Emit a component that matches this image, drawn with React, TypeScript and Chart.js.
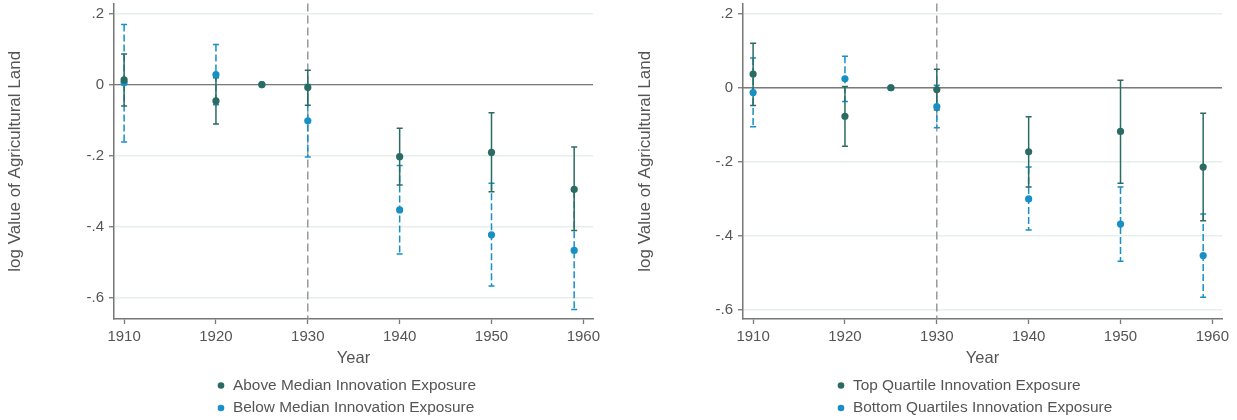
import React, { useEffect, useRef } from "react";
import { Chart, registerables } from "chart.js";

Chart.register(...registerables);

// ---------- DATA ----------
const years = [1910, 1920, 1925, 1930, 1940, 1950, 1959];
const xTicks = [1910, 1920, 1930, 1940, 1950, 1960];
const yTicks = [-0.6, -0.4, -0.2, 0, 0.2];
const yTickLabels = ["-.6", "-.4", "-.2", "0", ".2"];

// Left panel: median split
const aboveMedian = [0.013, -0.046, 0, -0.008, -0.203, -0.191, -0.295];
const aboveMedianLo = [-0.06, -0.111, 0, -0.058, -0.283, -0.302, -0.411];
const aboveMedianHi = [0.086, 0.019, 0, 0.04, -0.123, -0.079, -0.176];
const belowMedian = [0.005, 0.028, 0, -0.102, -0.353, -0.423, -0.467];
const belowMedianLo = [-0.162, -0.057, 0, -0.204, -0.477, -0.567, -0.633];
const belowMedianHi = [0.169, 0.113, 0, 0.0, -0.228, -0.278, -0.3];

// Right panel: quartile split
const topQuartile = [0.037, -0.077, 0, -0.005, -0.173, -0.118, -0.214];
const topQuartileLo = [-0.048, -0.158, 0, -0.06, -0.268, -0.258, -0.359];
const topQuartileHi = [0.12, 0.003, 0, 0.05, -0.078, 0.02, -0.069];
const bottomQuartiles = [-0.013, 0.024, 0, -0.051, -0.3, -0.368, -0.453];
const bottomQuartilesLo = [-0.105, -0.037, 0, -0.108, -0.384, -0.468, -0.565];
const bottomQuartilesHi = [0.08, 0.085, 0, 0.007, -0.214, -0.268, -0.341];

const treatmentYear = 1930;

const DARK = "#2b6b62";
const BLUE = "#1690c5";
const FONT = "'Liberation Sans', Arial, Helvetica, sans-serif";
const TEXT = "#555555";

type Panel = {
  left: number;
  width: number;
  plotLeft: number;
  plotRight: number;
  yTitlePad: number;
  yMin: number;
  yMax: number;
  series: { label: string; color: string; vals: number[]; lo: number[]; hi: number[]; dashed: boolean }[];
};

const panels: Panel[] = [
  {
    left: 0,
    width: 617,
    plotLeft: 114,
    plotRight: 593,
    yTitlePad: 5,
    yMin: -0.66,
    yMax: 0.228,
    series: [
      { label: "Above Median Innovation Exposure", color: DARK, vals: aboveMedian, lo: aboveMedianLo, hi: aboveMedianHi, dashed: false },
      { label: "Below Median Innovation Exposure", color: BLUE, vals: belowMedian, lo: belowMedianLo, hi: belowMedianHi, dashed: true },
    ],
  },
  {
    left: 620,
    width: 617,
    plotLeft: 123,
    plotRight: 602,
    yTitlePad: 15,
    yMin: -0.624,
    yMax: 0.227,
    series: [
      { label: "Top Quartile Innovation Exposure", color: DARK, vals: topQuartile, lo: topQuartileLo, hi: topQuartileHi, dashed: false },
      { label: "Bottom Quartiles Innovation Exposure", color: BLUE, vals: bottomQuartiles, lo: bottomQuartilesLo, hi: bottomQuartilesHi, dashed: true },
    ],
  },
];

function ChartPanel({ panel }: { panel: Panel }) {
  const ref = useRef<HTMLCanvasElement | null>(null);

  useEffect(() => {
    if (!ref.current) return;
    // error bars: draw the dashed (second) series first, solid on top
    const barOrder = [...panel.series].reverse();

    const refLines = {
      id: "refLines",
      beforeDatasetsDraw(chart: any) {
        const { ctx, chartArea, scales } = chart;
        const x = scales.x.getPixelForValue(treatmentYear);
        const y0 = scales.y.getPixelForValue(0);
        ctx.save();
        ctx.strokeStyle = "#7a7a7a";
        ctx.lineWidth = 1.3;
        ctx.beginPath();
        ctx.moveTo(chartArea.left, y0);
        ctx.lineTo(chartArea.right, y0);
        ctx.stroke();
        ctx.strokeStyle = "#8a8a8a";
        ctx.setLineDash([8, 4]);
        ctx.beginPath();
        ctx.moveTo(x, chartArea.top);
        ctx.lineTo(x, chartArea.bottom);
        ctx.stroke();
        ctx.restore();

        barOrder.forEach((s) => {
          ctx.save();
          ctx.strokeStyle = s.color;
          ctx.lineWidth = 1.5;
          years.forEach((yr, i) => {
            if (s.lo[i] === s.hi[i]) return;
            const px = scales.x.getPixelForValue(yr);
            const pl = scales.y.getPixelForValue(s.lo[i]);
            const ph = scales.y.getPixelForValue(s.hi[i]);
            ctx.setLineDash(s.dashed ? [7, 3] : []);
            ctx.beginPath();
            ctx.moveTo(px, ph);
            ctx.lineTo(px, pl);
            ctx.stroke();
            ctx.setLineDash([]);
            ctx.beginPath();
            ctx.moveTo(px - 3, ph);
            ctx.lineTo(px + 3, ph);
            ctx.moveTo(px - 3, pl);
            ctx.lineTo(px + 3, pl);
            ctx.stroke();
          });
          ctx.restore();
        });
      },
    };

    const legend = {
      id: "customLegend",
      afterDraw(chart: any) {
        const { ctx } = chart;
        ctx.save();
        ctx.font = `15.4px ${FONT}`;
        ctx.textBaseline = "middle";
        ctx.textAlign = "left";
        panel.series.forEach((s, i) => {
          const y = 385.5 + i * 22.5;
          ctx.fillStyle = s.color;
          ctx.beginPath();
          ctx.arc(221, y, 3.3, 0, Math.PI * 2);
          ctx.fill();
          ctx.fillStyle = TEXT;
          ctx.fillText(s.label, 233, y);
        });
        ctx.restore();
      },
    };

    const chart = new Chart(ref.current, {
      type: "scatter",
      data: {
        // dataset 0 (dark) is drawn on top by Chart.js
        datasets: panel.series.map((s) => ({
          label: s.label,
          data: years.map((yr, i) => ({ x: yr, y: s.vals[i] })),
          backgroundColor: s.color,
          borderColor: s.color,
          pointRadius: 3.6,
          pointHoverRadius: 3.6,
          borderWidth: 0,
        })),
      },
      options: {
        animation: false,
        responsive: false,
        events: [],
        layout: { padding: { left: 0, right: panel.width - panel.plotRight, top: 3, bottom: 0 } },
        plugins: { legend: { display: false }, tooltip: { enabled: false } },
        scales: {
          x: {
            type: "linear",
            min: 1908.9,
            max: 1961.05,
            afterBuildTicks: (scale: any) => {
              scale.ticks = xTicks.map((v) => ({ value: v }));
            },
            afterFit: (scale: any) => {
              scale.height = 101;
              scale.paddingLeft = 0;
              scale.paddingRight = 0;
            },
            ticks: {
              font: { family: FONT, size: 15 },
              color: TEXT,
              padding: 4,
              maxRotation: 0,
              callback: (v: any) => String(v),
            },
            grid: { drawOnChartArea: false, tickLength: 5, tickColor: "#777777", tickWidth: 1.3 },
            border: { color: "#777777", width: 1.5 },
            title: {
              display: true,
              text: "Year",
              font: { family: FONT, size: 16.5 },
              color: TEXT,
              padding: { top: 0, bottom: 52 },
            },
          },
          y: {
            type: "linear",
            min: panel.yMin,
            max: panel.yMax,
            afterBuildTicks: (scale: any) => {
              scale.ticks = yTicks.map((v) => ({ value: v }));
            },
            afterFit: (scale: any) => {
              scale.width = panel.plotLeft;
              scale.paddingTop = 0;
              scale.paddingBottom = 0;
            },
            ticks: {
              font: { family: FONT, size: 15 },
              color: TEXT,
              padding: 5,
              callback: (v: any) => {
                const idx = yTicks.findIndex((t) => Math.abs(t - v) < 1e-6);
                return idx >= 0 ? yTickLabels[idx] : "";
              },
            },
            grid: { color: "#e6efee", lineWidth: 1.5, tickLength: 5, tickColor: "#777777", tickWidth: 1.3 },
            border: { color: "#777777", width: 1.5 },
            title: {
              display: true,
              text: "log Value of Agricultural Land",
              font: { family: FONT, size: 17 },
              color: TEXT,
              padding: { top: panel.yTitlePad, bottom: 0 },
            },
          },
        },
      },
      plugins: [refLines, legend],
    } as any);

    return () => chart.destroy();
  }, [panel]);

  return (
    <canvas
      ref={ref}
      width={panel.width}
      height={420}
      style={{ position: "absolute", left: panel.left, top: 0, width: panel.width, height: 420 }}
    />
  );
}

export default function App() {
  return (
    <div style={{ position: "fixed", left: 0, top: 0, width: 1237, height: 420, background: "#ffffff", overflow: "hidden" }}>
      {panels.map((p, i) => (
        <ChartPanel key={i} panel={p} />
      ))}
    </div>
  );
}
